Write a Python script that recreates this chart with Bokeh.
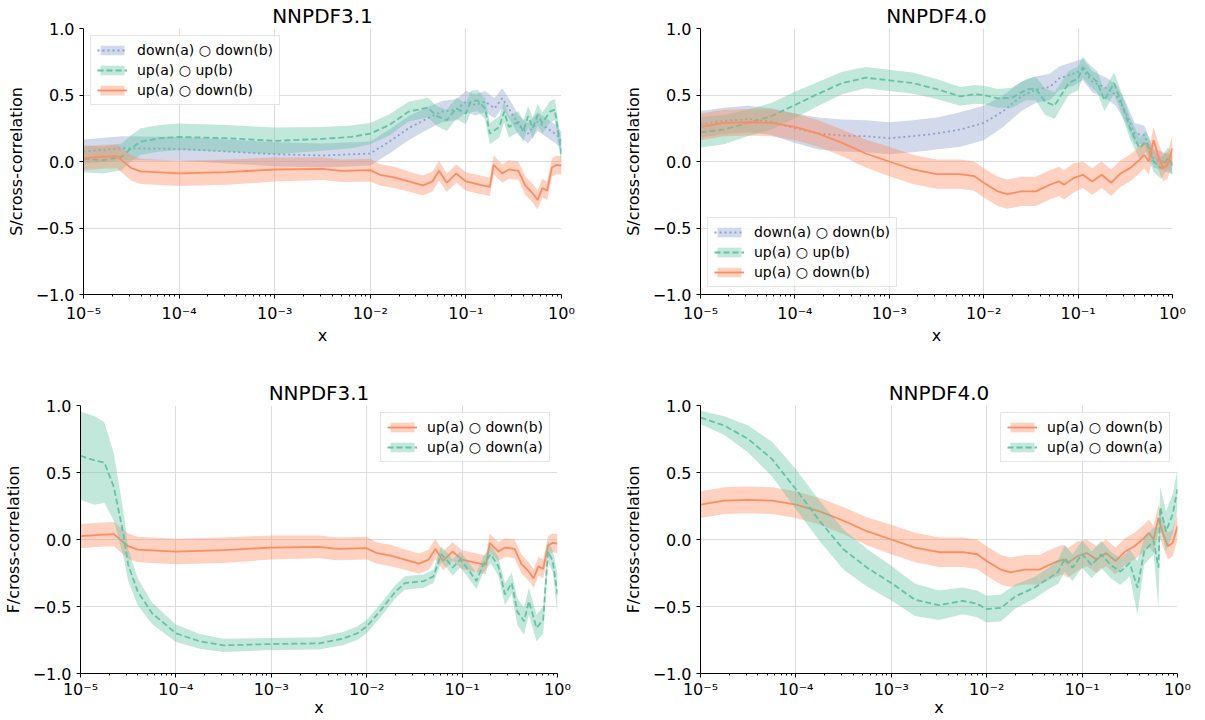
import numpy as np
from bokeh.plotting import figure
from bokeh.models import (Range1d, FixedTicker, CustomJSTickFormatter, Legend,
                          LegendItem)
from bokeh.layouts import column, row
from bokeh.embed import file_html
from bokeh.resources import INLINE

FONT = "DejaVu Sans"
GREEN = "#66c2a5"
ORANGE = "#fc8d62"
BLUE = "#8da0cb"

# ---------------- data (log10 x positions, central values, band half widths) ----
# up(a) o down(b), NNPDF3.1
lx_ud31 = [-5.0, -4.8, -4.65, -4.5, -4.4, -4.0, -3.5, -3.0, -2.5, -2.3,
           -2.0, -1.9, -1.75, -1.6, -1.45, -1.35, -1.28, -1.2, -1.1, -1.0,
           -0.85, -0.75, -0.71, -0.62, -0.55, -0.45, -0.38, -0.3, -0.25, -0.2,
           -0.15, -0.1, -0.05, 0.0]
ud31 = [0.025, 0.035, 0.04, -0.05, -0.075, -0.09, -0.08, -0.06, -0.055, -0.07,
        -0.065, -0.10, -0.12, -0.15, -0.18, -0.15, -0.07, -0.16, -0.09, -0.15,
        -0.175, -0.19, -0.025, -0.09, -0.06, -0.07, -0.18, -0.24, -0.29, -0.20,
        -0.22, -0.045, -0.025, -0.03]
hw_ud31 = [0.09, 0.09, 0.09, 0.095, 0.095, 0.095, 0.095, 0.09, 0.085, 0.085,
           0.085, 0.08, 0.08, 0.075, 0.075, 0.075, 0.075, 0.07, 0.07, 0.07,
           0.07, 0.07, 0.07, 0.07, 0.07, 0.07, 0.07, 0.07, 0.07, 0.07,
           0.07, 0.07, 0.07, 0.07]

# up(a) o up(b), NNPDF3.1
lx_uu31 = [-5.0, -4.8, -4.6, -4.5, -4.4, -4.2, -4.0, -3.5, -3.0, -2.5,
           -2.2, -2.0, -1.8, -1.6, -1.4, -1.3, -1.2, -1.1, -1.0, -0.95,
           -0.88, -0.8, -0.75, -0.65, -0.6, -0.55, -0.45, -0.4, -0.35, -0.3,
           -0.25, -0.2, -0.12, -0.07, -0.03, 0.0]
uu31 = [0.02, 0.01, 0.035, 0.10, 0.15, 0.175, 0.185, 0.175, 0.155, 0.17,
        0.185, 0.21, 0.275, 0.375, 0.405, 0.34, 0.31, 0.40, 0.36, 0.45,
        0.46, 0.40, 0.21, 0.26, 0.375, 0.26, 0.30, 0.225, 0.34, 0.25,
        0.35, 0.29, 0.375, 0.39, 0.20, 0.05]
hw_uu31 = [0.1, 0.1, 0.1, 0.1, 0.1, 0.1, 0.1, 0.1, 0.1, 0.09,
           0.085, 0.08, 0.08, 0.075, 0.075, 0.075, 0.08, 0.08, 0.08, 0.08,
           0.08, 0.08, 0.08, 0.08, 0.08, 0.08, 0.08, 0.08, 0.08, 0.08,
           0.08, 0.08, 0.08, 0.08, 0.08, 0.08]

# down(a) o down(b), NNPDF3.1
lx_dd31 = [-5.0, -4.6, -4.0, -3.5, -3.0, -2.5, -2.0, -1.8, -1.6, -1.4,
           -1.25, -1.1, -1.0, -0.9, -0.8, -0.7, -0.62, -0.55, -0.45, -0.35,
           -0.25, -0.15, -0.05, 0.0]
dd31 = [0.075, 0.10, 0.095, 0.075, 0.055, 0.045, 0.06, 0.15, 0.25, 0.325,
        0.375, 0.39, 0.45, 0.425, 0.45, 0.40, 0.475, 0.40, 0.275, 0.21,
        0.30, 0.25, 0.20, 0.15]
hw_dd31 = [0.09, 0.09, 0.09, 0.09, 0.09, 0.09, 0.09, 0.09, 0.09, 0.085,
           0.08, 0.08, 0.08, 0.08, 0.08, 0.075, 0.075, 0.075, 0.075, 0.075,
           0.07, 0.07, 0.07, 0.07]

# up(a) o up(b), NNPDF4.0
lx_uu40 = [-5.0, -4.75, -4.5, -4.25, -4.0, -3.75, -3.5, -3.25, -3.0, -2.75,
           -2.5, -2.25, -2.1, -2.0, -1.85, -1.7, -1.55, -1.45, -1.35, -1.25,
           -1.1, -1.0, -0.95, -0.88, -0.8, -0.72, -0.62, -0.55, -0.45, -0.35,
           -0.28, -0.2, -0.12, -0.05, 0.0]
uu40 = [0.22, 0.24, 0.29, 0.34, 0.425, 0.51, 0.59, 0.63, 0.61, 0.59,
        0.545, 0.49, 0.505, 0.50, 0.475, 0.48, 0.54, 0.55, 0.45, 0.42,
        0.59, 0.625, 0.71, 0.65, 0.60, 0.46, 0.59, 0.46, 0.25, 0.10,
        0.15, 0.0, -0.05, 0.025, -0.025]
hw_uu40 = [0.115, 0.11, 0.1, 0.1, 0.1, 0.09, 0.085, 0.08, 0.08, 0.08,
           0.075, 0.07, 0.07, 0.07, 0.07, 0.075, 0.08, 0.09, 0.1, 0.1,
           0.09, 0.09, 0.08, 0.08, 0.08, 0.08, 0.08, 0.08, 0.08, 0.08,
           0.08, 0.08, 0.08, 0.08, 0.08]

# down(a) o down(b), NNPDF4.0
lx_dd40 = [-5.0, -4.75, -4.5, -4.25, -4.0, -3.75, -3.5, -3.25, -3.0, -2.75,
           -2.5, -2.25, -2.0, -1.8, -1.6, -1.45, -1.3, -1.2, -1.05, -0.95,
           -0.85, -0.7, -0.6, -0.5, -0.4, -0.3, -0.2, -0.1, 0.0]
dd40 = [0.28, 0.305, 0.32, 0.30, 0.25, 0.21, 0.195, 0.19, 0.175, 0.19,
        0.21, 0.24, 0.29, 0.375, 0.49, 0.54, 0.56, 0.625, 0.66, 0.69,
        0.60, 0.55, 0.50, 0.375, 0.21, 0.20, 0.025, 0.0, -0.025]
hw_dd40 = [0.1, 0.1, 0.1, 0.1, 0.11, 0.12, 0.12, 0.12, 0.12, 0.12,
           0.12, 0.13, 0.13, 0.12, 0.11, 0.1, 0.1, 0.09, 0.09, 0.08,
           0.08, 0.08, 0.08, 0.08, 0.08, 0.07, 0.07, 0.07, 0.07]

# up(a) o down(b), NNPDF4.0
lx_ud40 = [-5.0, -4.75, -4.5, -4.25, -4.0, -3.75, -3.5, -3.25, -3.0, -2.75,
           -2.5, -2.25, -2.1, -2.0, -1.85, -1.75, -1.6, -1.45, -1.3, -1.2,
           -1.15, -1.05, -0.95, -0.85, -0.75, -0.65, -0.55, -0.45, -0.35, -0.3,
           -0.25, -0.2, -0.15, -0.1, -0.05, 0.0]
ud40 = [0.26, 0.29, 0.295, 0.29, 0.26, 0.21, 0.14, 0.06, 0.0, -0.06,
        -0.095, -0.095, -0.11, -0.16, -0.225, -0.245, -0.225, -0.225, -0.175, -0.15,
        -0.175, -0.125, -0.10, -0.15, -0.10, -0.16, -0.09, -0.05, 0.0125, 0.05,
        0.0, 0.16, 0.04, -0.05, -0.025, 0.10]
hw_ud40 = [0.1, 0.1, 0.1, 0.1, 0.1, 0.1, 0.1, 0.105, 0.11, 0.11,
           0.11, 0.11, 0.11, 0.11, 0.11, 0.11, 0.11, 0.11, 0.11, 0.11,
           0.11, 0.11, 0.1, 0.1, 0.1, 0.1, 0.1, 0.1, 0.1, 0.1,
           0.1, 0.1, 0.1, 0.1, 0.1, 0.1]

# up(a) o down(a), NNPDF3.1
lx_ua31 = [-5.0, -4.85, -4.75, -4.65, -4.55, -4.5, -4.4, -4.25, -4.0, -3.75,
           -3.5, -3.0, -2.5, -2.25, -2.1, -2.0, -1.85, -1.7, -1.6, -1.4,
           -1.3, -1.22, -1.15, -1.1, -1.02, -0.95, -0.85, -0.78, -0.7, -0.62,
           -0.55, -0.48, -0.42, -0.35, -0.3, -0.22, -0.15, -0.1, -0.05, 0.0]
ua31 = [0.625, 0.59, 0.575, 0.39, 0.04, -0.19, -0.39, -0.55, -0.70, -0.76,
        -0.79, -0.78, -0.775, -0.74, -0.70, -0.65, -0.525, -0.39, -0.325, -0.31,
        -0.275, -0.11, -0.16, -0.21, -0.15, -0.21, -0.31, -0.19, -0.11, -0.20,
        -0.41, -0.325, -0.54, -0.61, -0.46, -0.66, -0.60, -0.09, -0.16, -0.41]
hw_ua31 = [0.33, 0.33, 0.3, 0.25, 0.17, 0.12, 0.1, 0.08, 0.065, 0.055,
           0.05, 0.045, 0.045, 0.05, 0.05, 0.05, 0.05, 0.05, 0.05, 0.05,
           0.05, 0.06, 0.06, 0.06, 0.06, 0.06, 0.06, 0.06, 0.07, 0.07,
           0.08, 0.08, 0.1, 0.1, 0.1, 0.1, 0.1, 0.08, 0.08, 0.15]

# up(a) o down(a), NNPDF4.0
lx_ua40 = [-5.0, -4.75, -4.5, -4.25, -4.0, -3.75, -3.5, -3.25, -3.0, -2.75,
           -2.5, -2.25, -2.1, -2.0, -1.85, -1.7, -1.5, -1.35, -1.25, -1.18,
           -1.1, -1.0, -0.9, -0.8, -0.7, -0.6, -0.5, -0.42, -0.35, -0.25,
           -0.2, -0.18, -0.12, -0.05, 0.0]
ua40 = [0.91, 0.85, 0.75, 0.60, 0.375, 0.1375, -0.075, -0.2125, -0.325, -0.45,
        -0.49, -0.4575, -0.48, -0.52, -0.51, -0.425, -0.36, -0.29, -0.24, -0.14,
        -0.21, -0.11, -0.19, -0.11, -0.19, -0.24, -0.175, -0.36, -0.09, -0.01,
        -0.21, 0.24, 0.06, 0.19, 0.375]
hw_ua40 = [0.05, 0.07, 0.1, 0.13, 0.15, 0.15, 0.15, 0.14, 0.13, 0.12,
           0.11, 0.1, 0.1, 0.1, 0.1, 0.09, 0.08, 0.08, 0.09, 0.1,
           0.1, 0.1, 0.1, 0.1, 0.1, 0.1, 0.1, 0.2, 0.1, 0.1,
           0.3, 0.15, 0.15, 0.15, 0.15]

x_tick_exps = [-5, -4, -3, -2, -1, 0]
y_ticks = [-1.0, -0.5, 0.0, 0.5, 1.0]

LBL_DD = "down(a) \u25cb down(b)"
LBL_UU = "up(a) \u25cb up(b)"
LBL_UD = "up(a) \u25cb down(b)"
LBL_UA = "up(a) \u25cb down(a)"

XFMT = CustomJSTickFormatter(code="""
const e = Math.round(Math.log10(tick));
const sup = {"-": "\u207b", "0": "\u2070", "1": "\u00b9", "2": "\u00b2", "3": "\u00b3",
             "4": "\u2074", "5": "\u2075", "6": "\u2076", "7": "\u2077", "8": "\u2078", "9": "\u2079"};
return "10" + String(e).split("").map(c => sup[c]).join("");
""")
YFMT = CustomJSTickFormatter(code="""
return (tick < -1e-9 ? "\u2212" : "") + Math.abs(tick).toFixed(1);
""")


def make_fig(width, height, bl, br, bt, bb, ylabel, title, xls, xals):
    p = figure(width=width, height=height, x_axis_type="log",
               x_range=Range1d(1e-5, 1), y_range=Range1d(-1, 1),
               output_backend="svg", toolbar_location=None,
               min_border_left=bl, min_border_right=br,
               min_border_top=bt, min_border_bottom=bb)
    p.outline_line_color = None
    p.background_fill_color = "white"
    p.title.text = title
    p.title.align = "center"
    p.title.text_font = FONT
    p.title.text_font_size = "20px"
    p.title.text_font_style = "normal"
    p.title.text_color = "black"
    p.title.standoff = 2
    xt = FixedTicker(ticks=[10.0 ** e for e in x_tick_exps],
                     minor_ticks=[m * 10.0 ** e for e in x_tick_exps[:-1] for m in range(2, 10)])
    yt = FixedTicker(ticks=y_ticks, minor_ticks=[])
    p.xaxis.ticker = xt
    p.yaxis.ticker = yt
    p.xgrid.ticker = xt
    p.ygrid.ticker = yt
    p.xaxis.formatter = XFMT
    p.yaxis.formatter = YFMT
    for ax in (p.xaxis[0], p.yaxis[0]):
        ax.axis_line_color = "black"
        ax.axis_line_width = 1
        ax.major_tick_line_color = "black"
        ax.minor_tick_line_color = "black"
        ax.major_tick_in = 0
        ax.major_tick_out = 4
        ax.minor_tick_in = 0
        ax.minor_tick_out = 2
        ax.major_label_text_font = FONT
        ax.major_label_text_font_size = "16px"
        ax.major_label_text_color = "black"
        ax.major_label_standoff = 5
        ax.axis_label_text_font = FONT
        ax.axis_label_text_font_size = "16px"
        ax.axis_label_text_font_style = "normal"
        ax.axis_label_text_color = "black"
    p.yaxis.minor_tick_out = 0
    p.yaxis.axis_label = ylabel
    p.yaxis.axis_label_standoff = 7
    p.xaxis.axis_label = "x"
    p.xaxis.major_label_standoff = xls
    p.xaxis.axis_label_standoff = xals
    p.xgrid.grid_line_color = "#dcdcdc"
    p.ygrid.grid_line_color = "#dcdcdc"
    p.xgrid.grid_line_width = 1
    p.ygrid.grid_line_width = 1
    return p


def add_series(p, lx, v, hw, color, dash):
    x = 10.0 ** np.array(lx)
    v = np.array(v)
    hw = np.array(hw)
    band = p.varea(x=x, y1=v - hw, y2=v + hw, fill_color=color, fill_alpha=0.4)
    line = p.line(x=x, y=v, line_color=color, line_width=1.8, line_dash=dash)
    return [band, line]


def add_legend(p, items, loc):
    leg = Legend(items=[LegendItem(label=l, renderers=r) for l, r in items],
                 location=loc, margin=7, padding=6, spacing=4,
                 label_text_font=FONT, label_text_font_size="14px",
                 label_text_color="black", label_standoff=10,
                 glyph_width=30, glyph_height=12, label_height=16,
                 border_line_color="#cccccc", border_line_width=1,
                 background_fill_color="white", background_fill_alpha=0.8)
    p.add_layout(leg)


W1, W2 = 620, 585
H1, H2 = 360, 360

# top-left  (frame 83..561 x 27..294)
p1 = make_fig(W1, H1, 83, W1 - 83 - 478, 27, H1 - 27 - 267, "S/cross-correlation", "NNPDF3.1", 5, 0)
r_dd = add_series(p1, lx_dd31, dd31, hw_dd31, BLUE, "2 3")
r_uu = add_series(p1, lx_uu31, uu31, hw_uu31, GREEN, "6 3")
r_ud = add_series(p1, lx_ud31, ud31, hw_ud31, ORANGE, "solid")
add_legend(p1, [(LBL_DD, r_dd), (LBL_UU, r_uu), (LBL_UD, r_ud)], "top_left")

# top-right (frame 694..1172 x 27..294)
p2 = make_fig(W2, H1, 74, W2 - 74 - 478, 27, H1 - 27 - 267, "S/cross-correlation", "NNPDF4.0", 5, 0)
r_dd = add_series(p2, lx_dd40, dd40, hw_dd40, BLUE, "2 3")
r_uu = add_series(p2, lx_uu40, uu40, hw_uu40, GREEN, "6 3")
r_ud = add_series(p2, lx_ud40, ud40, hw_ud40, ORANGE, "solid")
add_legend(p2, [(LBL_DD, r_dd), (LBL_UU, r_uu), (LBL_UD, r_ud)], "bottom_left")

# bottom-left (frame 79..557 x 405..673)
p3 = make_fig(W1, H2, 79, W1 - 79 - 478, 45, H2 - 45 - 268, "F/cross-correlation", "NNPDF3.1", 2, -4)
r_ud = add_series(p3, lx_ud31, ud31, hw_ud31, ORANGE, "solid")
r_ua = add_series(p3, lx_ua31, ua31, hw_ua31, GREEN, "6 3")
add_legend(p3, [(LBL_UD, r_ud), (LBL_UA, r_ua)], "top_right")

# bottom-right (frame 699..1177 x 405..673)
p4 = make_fig(W2, H2, 79, W2 - 79 - 478, 45, H2 - 45 - 268, "F/cross-correlation", "NNPDF4.0", 2, -4)
r_ud = add_series(p4, lx_ud40, ud40, hw_ud40, ORANGE, "solid")
r_ua = add_series(p4, lx_ua40, ua40, hw_ua40, GREEN, "6 3")
add_legend(p4, [(LBL_UD, r_ud), (LBL_UA, r_ua)], "top_right")

layout = column(row(p1, p2), row(p3, p4))
open("out.html", "w").write(file_html(layout, INLINE))
